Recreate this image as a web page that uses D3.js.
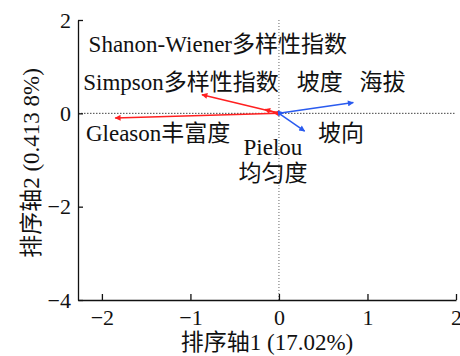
<!DOCTYPE html>
<html>
<head>
<meta charset="utf-8">
<script src="https://cdn.jsdelivr.net/npm/d3@7"></script>
<style>
  html, body { margin: 0; padding: 0; background: #fff; }
  svg { display: block; }
  text { font-family: "Liberation Serif", "Times New Roman", "Noto Sans CJK SC", serif; fill: #111; }
</style>
</head>
<body>
<svg id="chart" width="460" height="356"></svg>
<script>
// ---- data ----
const variables = ["Shanon-Wiener多样性指数", "Simpson多样性指数", "Gleason丰富度", "Pielou均匀度", "海拔", "坡度", "坡向"];
const groups    = ["species", "species", "species", "species", "env", "env", "env"];
const axis1     = [-0.16, -0.87, -1.85, -0.06, 0.84, 0.05, 0.29];
const axis2     = [0.085, 0.40, -0.10, 0.01, 0.23, 0.015, -0.38];
const labelText = [["Shanon-Wiener多样性指数"], ["Simpson多样性指数"], ["Gleason丰富度"], ["Pielou", "均匀度"], ["海拔"], ["坡度"], ["坡向"]];
const labelX    = [-2.15, -2.21, -2.18, -0.40, 0.91, 0.20, 0.44];
const labelY    = [1.32, 0.51, -0.59, -0.90, 0.51, 0.51, -0.60];
const xTicks = [-2, -1, 0, 1, 2];
const yTicks = [-4, -2, 0, 2];
const xTitle = "排序轴1 (17.02%)";
const yTitle = "排序轴2 (0.413 8%)";
const colors = { species: "#ff2020", env: "#2a5bef" };

(function () {
// ---- layout ----
const svg = d3.select("#chart");
const pl = 78, pr = 456, pt = 20, pb = 300;
const x = d3.scaleLinear().domain([-2.27, 2]).range([pl, pr]);
const y = d3.scaleLinear().domain([-4, 2]).range([pb, pt]);

// reference lines
svg.append("line").attr("x1", x(0)).attr("x2", x(0)).attr("y1", y(2)).attr("y2", y(-4))
  .attr("stroke", "#666").attr("stroke-width", 1).attr("stroke-dasharray", "1,2");
svg.append("line").attr("x1", x(-2.27)).attr("x2", x(2)).attr("y1", y(0)).attr("y2", y(0))
  .attr("stroke", "#444").attr("stroke-width", 1).attr("stroke-dasharray", "1.5,1.5");

// axes
const xAxis = svg.append("g").attr("transform", `translate(0,${pb})`)
  .call(d3.axisBottom(x).tickValues(xTicks).tickFormat(d3.format("d")).tickSizeInner(-6).tickSizeOuter(0).tickPadding(9));
const yAxis = svg.append("g").attr("transform", `translate(${pl},0)`)
  .call(d3.axisLeft(y).tickValues(yTicks).tickFormat(d3.format("d")).tickSizeInner(-5).tickSizeOuter(0).tickPadding(7));
[xAxis, yAxis].forEach(g => {
  g.attr("font-family", null).attr("font-size", 22);
  g.select(".domain").attr("stroke", "#111").attr("stroke-width", 1.3);
  g.selectAll(".tick line").attr("stroke", "#111").attr("stroke-width", 1.3);
  g.selectAll(".tick text").attr("fill", "#111");
});

// arrow markers
const defs = svg.append("defs");
Object.entries(colors).forEach(([k, c]) => {
  defs.append("marker").attr("id", "arrow-" + k)
    .attr("viewBox", "0 0 10 10").attr("refX", 9).attr("refY", 5)
    .attr("markerWidth", 5).attr("markerHeight", 4).attr("markerUnits", "strokeWidth")
    .attr("orient", "auto")
    .append("path").attr("d", "M0,0 L10,5 L0,10 Z").attr("fill", c);
});

// arrows
svg.append("g").selectAll("line").data(variables).join("line")
  .attr("x1", x(0)).attr("y1", y(0))
  .attr("x2", (d, i) => x(axis1[i])).attr("y2", (d, i) => y(axis2[i]))
  .attr("stroke", (d, i) => colors[groups[i]])
  .attr("stroke-width", 1.5)
  .attr("marker-end", (d, i) => `url(#arrow-${groups[i]})`);

// labels
svg.append("g").selectAll("text").data(variables).join("text")
  .attr("font-size", 23)
  .attr("x", (d, i) => x(labelX[i])).attr("y", (d, i) => y(labelY[i]))
  .each(function (d, i) {
    const t = d3.select(this);
    labelText[i].forEach((line, j) => {
      t.append("tspan").attr("x", j === 0 ? x(labelX[i]) : x(labelX[i]) - 5).attr("dy", j === 0 ? 0 : 26).text(line);
    });
  });

// axis titles
svg.append("text").attr("font-size", 23).attr("text-anchor", "middle")
  .attr("x", (pl + pr) / 2).attr("y", 350).text(xTitle);
svg.append("text").attr("font-size", 23).attr("text-anchor", "middle")
  .attr("transform", `translate(39,${(pt + pb) / 2 + 3}) rotate(-90)`).text(yTitle);
})();
</script>
</body>
</html>
